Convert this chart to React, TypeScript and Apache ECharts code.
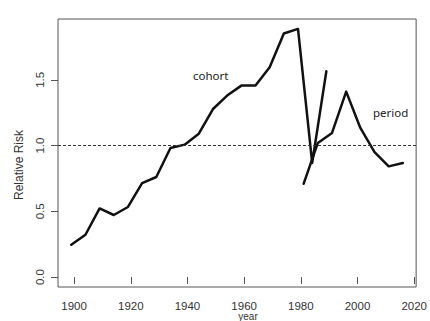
import React, { useEffect, useRef } from "react";
import * as echarts from "echarts";

// Age-period-cohort effects: relative risk by birth cohort and by period
const cohortYears = [1899, 1904, 1909, 1914, 1919, 1924, 1929, 1934, 1939, 1944, 1949, 1954, 1959, 1964, 1969, 1974, 1979, 1984, 1989];
const cohortRisk = [0.246, 0.322, 0.522, 0.472, 0.533, 0.715, 0.761, 0.981, 1.007, 1.09, 1.278, 1.38, 1.456, 1.456, 1.595, 1.852, 1.887, 0.868, 1.565];

const periodYears = [1981, 1986, 1991, 1996, 2001, 2006, 2011, 2016];
const periodRisk = [0.71, 1.02, 1.096, 1.41, 1.134, 0.95, 0.842, 0.867];

const xTicks = [1900, 1920, 1940, 1960, 1980, 2000, 2020];
const yTicks = [0, 0.5, 1, 1.5];
const referenceRisk = 1;

// R-style axis range: data extent padded by 4% on each side
const pad = (lo: number, hi: number) => {
  const d = (hi - lo) * 0.04;
  return [lo - d, hi + d];
};

export default function App() {
  const ref = useRef<HTMLDivElement>(null);

  useEffect(() => {
    document.body.style.margin = "0";
    if (!ref.current) return;
    const chart = echarts.init(ref.current, null, { renderer: "svg" });

    const allX = [...cohortYears, ...periodYears];
    const allY = [0, ...cohortRisk, ...periodRisk];
    const [xMin, xMax] = pad(Math.min(...allX), Math.max(...allX));
    const [yMin, yMax] = pad(Math.min(...allY), Math.max(...allY));

    const axisFont = { fontFamily: "Liberation Sans, Arial, sans-serif", fontSize: 11.5, color: "#333" };
    const lineStyle = { color: "#111", width: 2.5, join: "round" as const, cap: "round" as const };

    chart.setOption({
      animation: false,
      backgroundColor: "#fff",
      grid: {
        left: 58,
        top: 19,
        width: 363,
        height: 268,
        show: true,
        borderColor: "#555",
        borderWidth: 1,
        containLabel: false,
      },
      xAxis: {
        type: "value",
        min: xMin,
        max: xMax,
        axisLine: { show: false },
        splitLine: { show: false },
        axisTick: { show: true, inside: false, length: 7, customValues: xTicks, lineStyle: { color: "#555" } },
        axisLabel: {
          customValues: xTicks,
          margin: 13,
          lineHeight: 11,
          formatter: (v: number) => String(Math.round(v)),
          ...axisFont,
        },
      },
      yAxis: {
        type: "value",
        min: yMin,
        max: yMax,
        axisLine: { show: false },
        splitLine: { show: false },
        axisTick: { show: true, inside: false, length: 7, customValues: yTicks, lineStyle: { color: "#555" } },
        axisLabel: {
          customValues: yTicks,
          rotate: 90,
          margin: 12,
          formatter: (v: number) => v.toFixed(1),
          ...axisFont,
        },
      },
      series: [
        {
          name: "cohort",
          type: "line",
          data: cohortYears.map((y, i) => [y, cohortRisk[i]]),
          showSymbol: false,
          lineStyle,
          markLine: {
            silent: true,
            symbol: "none",
            label: { show: false },
            lineStyle: { color: "#333", width: 1, type: [3, 2] },
            data: [{ yAxis: referenceRisk }],
          },
        },
        {
          name: "period",
          type: "line",
          data: periodYears.map((y, i) => [y, periodRisk[i]]),
          showSymbol: false,
          lineStyle,
        },
      ],
      graphic: [
        {
          type: "text",
          x: 193,
          y: 75,
          style: { text: "cohort", fill: "#222", fontSize: 11.5, fontFamily: "Noto Sans, sans-serif", verticalAlign: "middle", align: "left" },
        },
        {
          type: "text",
          x: 373,
          y: 112,
          style: { text: "period", fill: "#222", fontSize: 11.5, fontFamily: "Noto Sans, sans-serif", verticalAlign: "middle", align: "left" },
        },
        {
          type: "text",
          x: 19,
          y: 165,
          rotation: Math.PI / 2,
          style: { text: "Relative Risk", fill: "#333", fontSize: 12, fontFamily: "Liberation Sans, Arial, sans-serif", verticalAlign: "middle", align: "center" },
        },
        {
          type: "text",
          x: 248,
          y: 321,
          style: { text: "year", fill: "#333", fontSize: 10, lineHeight: 9, fontFamily: "Liberation Sans, Arial, sans-serif", verticalAlign: "bottom", align: "center" },
        },
      ],
    });

    return () => chart.dispose();
  }, []);

  return <div ref={ref} style={{ width: 430, height: 321 }} />;
}
